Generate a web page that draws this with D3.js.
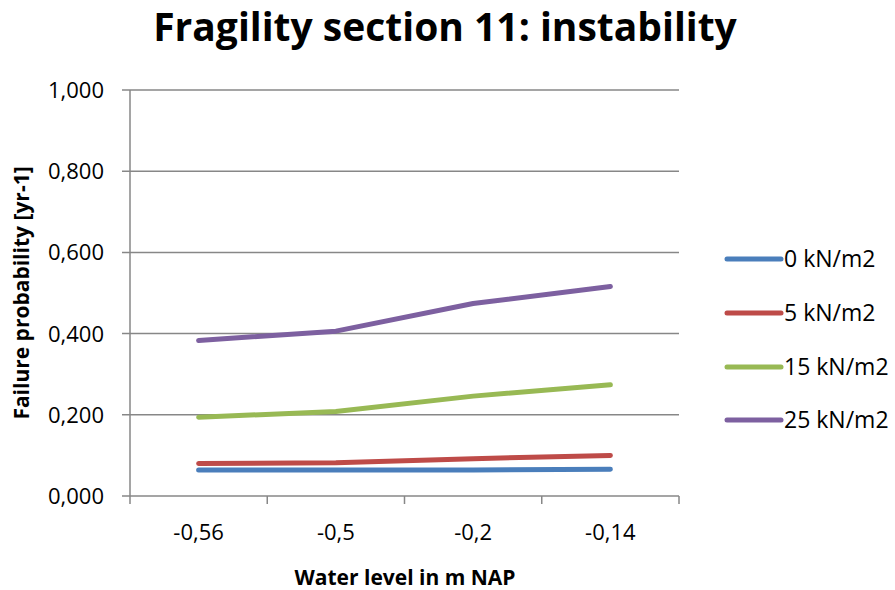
<!DOCTYPE html>
<html><head><meta charset="utf-8">
<script src="https://cdn.jsdelivr.net/npm/d3@7"></script>
<style>body{margin:0;background:#fff}text{font-family:"Open Sans",sans-serif;fill:#000}</style>
</head><body><svg id="c" width="895" height="590"></svg>
<script>
const categories = ["-0,56","-0,5","-0,2","-0,14"];
const seriesNames = ["0 kN/m2","5 kN/m2","15 kN/m2","25 kN/m2"];
const s0 = [0.064,0.064,0.064,0.066];
const s5 = [0.080,0.082,0.092,0.100];
const s15 = [0.194,0.208,0.246,0.274];
const s25 = [0.383,0.406,0.474,0.516];
const colors = ["#4A7EBB","#BE4B48","#98B954","#7D60A0"];
const yTicks = [0,0.2,0.4,0.6,0.8,1.0];
const series = [s0,s5,s15,s25];

const svg = d3.select("#c");
const L=130,R=679,T=90,B=496;
const x = d3.scaleBand().domain(categories).range([L,R]);
const y = d3.scaleLinear().domain([0,1]).range([B,T]);
const fmt = v => d3.format(",.3f")(v).replace(".",",");

svg.append("g").selectAll("line").data(yTicks).join("line")
 .attr("x1",L-8).attr("x2",R).attr("y1",d=>y(d)).attr("y2",d=>y(d))
 .attr("stroke","#878787").attr("stroke-width",1.5);
svg.append("g").selectAll("text").data(yTicks).join("text")
 .attr("x",104).attr("y",d=>y(d)).attr("dy","0.36em").attr("text-anchor","end")
 .attr("font-size",22).text(d=>fmt(d));
svg.append("line").attr("x1",L).attr("x2",L).attr("y1",T).attr("y2",B).attr("stroke","#878787").attr("stroke-width",1.5);
const bounds = categories.map(c=>x(c)).concat([R]);
svg.append("g").selectAll("line").data(bounds).join("line")
 .attr("x1",d=>d).attr("x2",d=>d).attr("y1",B).attr("y2",B+8).attr("stroke","#878787").attr("stroke-width",1.5);
svg.append("g").selectAll("text").data(categories).join("text")
 .attr("x",d=>x(d)+x.bandwidth()/2).attr("y",540).attr("text-anchor","middle").attr("font-size",22).text(d=>d);

const line = d3.line().x((d,i)=>x(categories[i])+x.bandwidth()/2).y(d=>y(d));
series.forEach((s,k)=>{
 svg.append("path").attr("d",line(s)).attr("fill","none").attr("stroke",colors[k])
  .attr("stroke-width",5).attr("stroke-linecap","round").attr("stroke-linejoin","round");
});

const legY = [259,313,367,420];
seriesNames.forEach((n,k)=>{
 svg.append("line").attr("x1",727).attr("x2",781).attr("y1",legY[k]).attr("y2",legY[k])
  .attr("stroke",colors[k]).attr("stroke-width",5).attr("stroke-linecap","round");
 svg.append("text").attr("x",784).attr("y",legY[k]).attr("dy","0.36em").attr("font-size",23).text(n);
});

svg.append("text").attr("x",445).attr("y",41).attr("text-anchor","middle").attr("font-size",39).attr("font-weight","bold").text("Fragility section 11: instability");
svg.append("text").attr("x",405).attr("y",585).attr("text-anchor","middle").attr("font-size",21).attr("font-weight","bold").text("Water level in m NAP");
svg.append("text").attr("transform","translate(29,293) rotate(-90)").attr("text-anchor","middle").attr("font-size",21).attr("font-weight","bold").text("Failure probability [yr-1]");
</script></body></html>
